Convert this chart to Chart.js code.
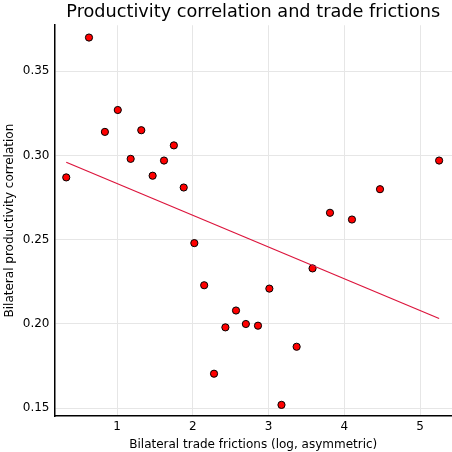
<!DOCTYPE html>
<html>
<head>
<meta charset="utf-8">
<script src="https://cdn.jsdelivr.net/npm/chart.js@4"></script>
<style>
  html, body { margin: 0; padding: 0; background: #fff; }
  #wrap { width: 452px; height: 452px; }
</style>
</head>
<body>
<div id="wrap"><canvas id="chart" width="452" height="452"></canvas></div>
<script>
// trade frictions (x) and productivity correlation (y) per country pair
const frictions = [0.33, 0.63, 0.84, 1.01, 1.32, 1.18, 1.62, 1.47, 1.75, 1.88, 2.02, 2.15, 2.28,
                   2.43, 2.57, 2.70, 2.86, 3.01, 3.17, 3.37, 3.58, 3.81, 4.10, 4.47, 5.25];
const correlations = [0.287, 0.370, 0.314, 0.327, 0.315, 0.298, 0.297, 0.288, 0.306, 0.281, 0.248, 0.223, 0.1705,
                      0.198, 0.208, 0.200, 0.199, 0.221, 0.152, 0.1865, 0.233, 0.266, 0.262, 0.280, 0.297];
// fitted line end points
const fitX = [0.33, 5.25];
const fitY = [0.296, 0.2033];

const xTicks = [1, 2, 3, 4, 5];
const yTicks = [0.15, 0.20, 0.25, 0.30, 0.35];

const font = "'DejaVu Sans', sans-serif";

const points = frictions.map((x, i) => ({ x: x, y: correlations[i] }));
const fit = fitX.map((x, i) => ({ x: x, y: fitY[i] }));

const ctx = document.getElementById('chart').getContext('2d');
const chart = new Chart(ctx, {
    type: 'scatter',
    data: {
        datasets: [{
            data: fit,
            type: 'line',
            showLine: true,
            borderColor: '#dc143c',
            borderWidth: 1.2,
            pointRadius: 0,
            fill: false
        }, {
            data: points,
            backgroundColor: '#ff0000',
            borderColor: '#000000',
            borderWidth: 1,
            pointRadius: 3.6
        }]
    },
    options: {
        responsive: false,
        animation: false,
        layout: { autoPadding: false, padding: 0 },
        plugins: {
            legend: { display: false },
            tooltip: { enabled: false },
            title: {
                display: true,
                fullSize: false,
                text: 'Productivity correlation and trade frictions',
                color: '#000',
                font: { family: font, size: 17.7, weight: 'normal' },
                padding: { top: 2, bottom: 2 }
            }
        },
        scales: {
            x: {
                type: 'linear',
                min: 0.175,
                max: 5.42,
                afterBuildTicks: s => { s.ticks = xTicks.map(v => ({ value: v })); },
                afterFit: s => { s.height = 36; },
                grid: { color: '#e6e6e6', lineWidth: 1, drawTicks: false },
                border: { display: true, color: '#000', width: 1.5 },
                ticks: {
                    color: '#000',
                    font: { family: font, size: 12 },
                    padding: 4,
                    maxRotation: 0,
                    callback: v => String(v)
                },
                title: {
                    display: true,
                    text: 'Bilateral trade frictions (log, asymmetric)',
                    color: '#000',
                    font: { family: font, size: 12 },
                    padding: { top: 3, bottom: 0 }
                }
            },
            y: {
                type: 'linear',
                min: 0.1454,
                max: 0.3773,
                afterBuildTicks: s => { s.ticks = yTicks.map(v => ({ value: v })); },
                afterFit: s => { s.width = 54.5; },
                grid: { color: '#e6e6e6', lineWidth: 1, drawTicks: false },
                border: { display: true, color: '#000', width: 1.5 },
                ticks: {
                    color: '#000',
                    font: { family: font, size: 12 },
                    padding: 5,
                    callback: v => v.toFixed(2)
                },
                title: {
                    display: true,
                    text: 'Bilateral productivity correlation',
                    color: '#000',
                    font: { family: font, size: 12 },
                    padding: { top: 3, bottom: 0 }
                }
            }
        }
    }
});
</script>
</body>
</html>
